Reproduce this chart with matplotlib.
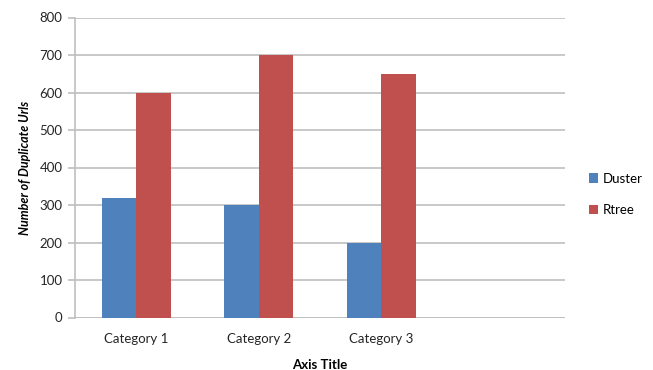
import numpy as np
import matplotlib
matplotlib.use("Agg")
import matplotlib.pyplot as plt

categories = ["Category 1", "Category 2", "Category 3"]
duster = [320, 300, 200]
rtree = [600, 700, 650]
yticks = [0, 100, 200, 300, 400, 500, 600, 700, 800]

plt.rcParams['font.family'] = ['Lato', 'DejaVu Sans']

fig = plt.figure(figsize=(6.53, 3.70), dpi=100)
ax = fig.add_axes([75 / 653, 52.5 / 370, 490 / 653, 300 / 370])

x = np.arange(len(categories))
w = 0.283
ax.bar(x - w / 2, duster, w, color="#4F81BD", label="Duster", zorder=3)
ax.bar(x + w / 2, rtree, w, color="#C0504D", label="Rtree", zorder=3)

# Excel leaves a fourth empty category slot
ax.set_xlim(-0.5, 3.5)
ax.set_ylim(0, 800)
ax.set_xticks(x)
ax.set_xticklabels(categories, fontsize=9.5, color="#262626")
ax.set_yticks(yticks)
ax.set_yticklabels([str(v) for v in yticks], fontsize=9.5, color="#262626")
ax.tick_params(axis="x", length=0, pad=11)
ax.tick_params(axis="y", length=5, color="#BFBFBF", width=1.2, pad=4)

ax.grid(axis="y", color="#BFBFBF", linewidth=1.2, zorder=0)
for s in ["top", "right", "bottom"]:
    ax.spines[s].set_visible(False)
ax.spines["left"].set_color("#BFBFBF")
ax.spines["left"].set_linewidth(1.2)
ax.axhline(0, color="#BFBFBF", linewidth=1.2, zorder=2)

ax.set_xlabel("Axis Title", fontsize=9.5, fontweight="bold", labelpad=10)
ax.set_ylabel("Number of Duplicate Urls", fontsize=9, fontweight="bold",
              fontstyle="italic", labelpad=6)

ax.legend(loc="center left", bbox_to_anchor=(1.025, 0.41), frameon=False,
          fontsize=9.5, handlelength=0.7, handleheight=0.7, handletextpad=0.3,
          labelspacing=1.5)

fig.savefig("out.png", dpi=100)
